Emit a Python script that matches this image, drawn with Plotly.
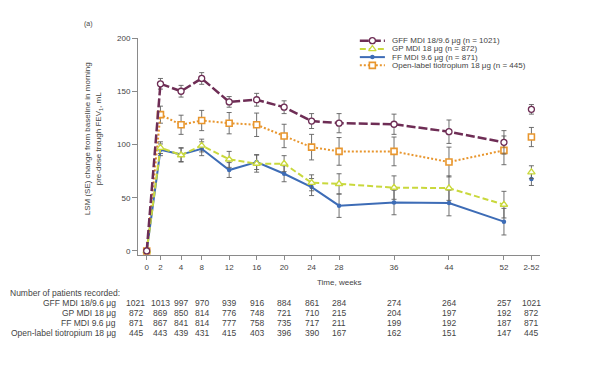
import plotly.graph_objects as go

# ---------------- data ----------------
tick_labels = ["0", "2", "4", "8", "12", "16", "20", "24", "28", "36", "44", "52", "2-52"]
# visual position of each time point on the chart's axis
tick_pos = [0, 2, 5, 8, 12, 16, 20, 24, 28, 36, 44, 52, 56]

series_names = [
    "GFF MDI 18/9.6 μg (n = 1021)",
    "GP MDI 18 μg (n = 872)",
    "FF MDI 9.6 μg (n = 871)",
    "Open-label tiotropium 18 μg (n = 445)",
]

gff_vals = [0, 157, 150, 162, 140, 142, 135, 122, 120, 119, 112, 102]
gff_se = [0, 5, 5.5, 5.5, 5, 6, 6, 7, 9, 9.5, 11, 11]
gff_overall, gff_overall_se = 133, 4.5

gp_vals = [0, 97, 90, 99, 86, 82, 82, 64, 63, 59.5, 59, 43.5]
gp_se = [0, 5.5, 6.5, 6, 7.5, 8, 7.5, 7.5, 9.5, 11, 11.5, 12.5]
gp_overall, gp_overall_se = 74, 6

ff_vals = [0, 95, 90.5, 96, 76, 83.5, 72.5, 60, 42.5, 45.5, 45, 27.5]
ff_se = [0, 5.5, 6.5, 6.5, 7, 7, 7.5, 8, 11, 11.5, 12, 12.5]
ff_overall, ff_overall_se = 67.5, 6

tio_vals = [0, 128, 118.5, 122.5, 120, 118.5, 108, 97.5, 93.5, 93.5, 83.5, 94.5]
tio_se = [0, 8, 9, 9.5, 10, 11, 11, 12, 13, 13.5, 14, 13.5]
tio_overall, tio_overall_se = 107, 9

table_labels = ["GFF MDI 18/9.6 μg", "GP MDI 18 μg", "FF MDI 9.6 μg", "Open-label tiotropium 18 μg"]
n_gff = [1021, 1013, 997, 970, 939, 916, 884, 861, 284, 274, 264, 257, 1021]
n_gp = [872, 869, 850, 814, 776, 748, 721, 710, 215, 204, 197, 192, 872]
n_ff = [871, 867, 841, 814, 777, 758, 735, 717, 211, 199, 192, 187, 871]
n_tio = [445, 443, 439, 431, 415, 403, 396, 390, 167, 162, 151, 147, 445]

# ---------------- styles ----------------
FONT = "Liberation Sans, Arial, sans-serif"
TXT = "#444444"
AX = "#8a8a8a"
ERR = "#606060"

styles = [
    dict(color="#6e2d55", dash="9px,3px", width=2.5, symbol="circle", size=6, fill="white", mlw=1.3),
    dict(color="#c9d83c", dash="6px,3px", width=2.0, symbol="triangle-up", size=6.5, fill="white", mlw=1.3),
    dict(color="#3d6cb6", dash="solid", width=2.0, symbol="circle", size=4.5, fill="#3d6cb6", mlw=0),
    dict(color="#e8962e", dash="2px,2px", width=2.0, symbol="square", size=6, fill="white", mlw=1.6),
]
vals = [gff_vals, gp_vals, ff_vals, tio_vals]
ses = [gff_se, gp_se, ff_se, tio_se]
overall = [gff_overall, gp_overall, ff_overall, tio_overall]
overall_se = [gff_overall_se, gp_overall_se, ff_overall_se, tio_overall_se]


def marker_of(s):
    return dict(symbol=s["symbol"], size=s["size"], color=s["fill"],
                line=dict(color=s["color"], width=s["mlw"]))


fig = go.Figure()
x_main = tick_pos[:12]
x_all = tick_pos[12]

# draw in order so GFF on top
for i in [3, 2, 1, 0]:
    s = styles[i]
    fig.add_trace(go.Scatter(
        x=x_main, y=vals[i], mode="lines+markers",
        line=dict(color=s["color"], dash=s["dash"], width=s["width"]),
        marker=marker_of(s),
        error_y=dict(type="data", array=ses[i], color=ERR, thickness=0.9, width=2.5),
        showlegend=False, cliponaxis=False, hoverinfo="skip",
    ))
    fig.add_trace(go.Scatter(
        x=[x_all], y=[overall[i]], mode="markers",
        marker=marker_of(s),
        error_y=dict(type="data", array=[overall_se[i]], color=ERR, thickness=0.9, width=2.5),
        showlegend=False, cliponaxis=False, hoverinfo="skip",
    ))

# ---------------- custom compact legend (own small axes) ----------------
for i, s in enumerate(styles):
    fig.add_trace(go.Scatter(
        x=[0.06, 0.45, 0.84], y=[i, i, i], mode="lines",
        line=dict(color=s["color"], dash=s["dash"], width=s["width"]),
        xaxis="x2", yaxis="y2", showlegend=False, hoverinfo="skip", cliponaxis=False,
    ))
    fig.add_trace(go.Scatter(
        x=[0.45], y=[i], mode="markers", marker=marker_of(s),
        xaxis="x2", yaxis="y2", showlegend=False, hoverinfo="skip", cliponaxis=False,
    ))
    fig.add_annotation(x=1.0, y=i, xref="x2", yref="y2", text=series_names[i],
                       showarrow=False, xanchor="left", yanchor="middle",
                       font=dict(size=8, color=TXT, family=FONT))

# ---------------- annotations ----------------
ann_font = dict(size=8, color=TXT, family=FONT)
tab_font = dict(size=8.5, color=TXT, family=FONT)
fig.add_annotation(x=-0.124, y=1.065, xref="paper", yref="paper", text="(a)",
                   showarrow=False, xanchor="center", yanchor="middle",
                   font=dict(size=7, color=TXT, family=FONT))
fig.add_annotation(x=-0.111, y=0.535, xref="paper", yref="paper",
                   text="LSM (SE) change from baseline in morning<br>pre-dose trough FEV<sub>1</sub>, mL",
                   showarrow=False, textangle=-90, xanchor="center", yanchor="middle",
                   font=ann_font)
fig.add_annotation(x=0.5, y=-0.129, xref="paper", yref="paper", text="Time, weeks",
                   showarrow=False, xanchor="center", yanchor="middle", font=ann_font)

fig.add_annotation(x=-0.323, y=-0.173, xref="paper", yref="paper",
                   text="Number of patients recorded:", showarrow=False,
                   xanchor="left", yanchor="middle", font=tab_font)
row_y0, row_dy = -0.219, -0.0472
for r, (lab, counts) in enumerate(zip(table_labels, [n_gff, n_gp, n_ff, n_tio])):
    yy = row_y0 + r * row_dy
    fig.add_annotation(x=-0.05, y=yy, xref="paper", yref="paper", text=lab,
                       showarrow=False, xanchor="right", yanchor="middle", font=tab_font)
    for c, n in enumerate(counts):
        fig.add_annotation(x=tick_pos[c], y=yy, xref="x", yref="paper", text=str(n),
                           showarrow=False, xanchor="center", yanchor="middle",
                           xshift=-11 if c == 0 else 0, font=tab_font)

# page body adds an 8px offset; margins compensate so the plot area lands where the reference has it
fig.update_layout(
    width=595, height=367,
    margin=dict(l=130, r=63, t=30, b=120),
    paper_bgcolor="white", plot_bgcolor="white",
    font=dict(family=FONT, size=8, color=TXT),
    xaxis=dict(range=[-1.27, 57.25], tickvals=tick_pos, ticktext=tick_labels,
               showline=True, linecolor=AX, linewidth=1, ticks="outside", ticklen=4,
               tickcolor=AX, showgrid=False, zeroline=False,
               tickfont=dict(size=8, color=TXT, family=FONT)),
    yaxis=dict(range=[-3.8, 200], tickvals=[0, 50, 100, 150, 200],
               showline=True, linecolor=AX, linewidth=1, ticks="outside", ticklen=5,
               tickcolor=AX, showgrid=False, zeroline=False,
               tickfont=dict(size=8, color=TXT, family=FONT)),
    xaxis2=dict(domain=[0.547, 0.627], range=[0, 1], visible=False, anchor="y2"),
    yaxis2=dict(domain=[0.8525, 1.0], range=[3.57, -0.33], visible=False, anchor="x2"),
)

fig.write_html("out.html")
